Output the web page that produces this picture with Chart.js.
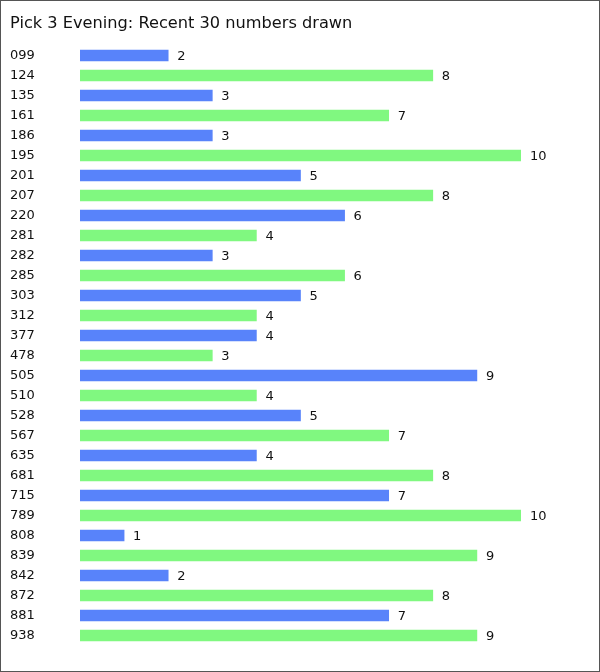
<!DOCTYPE html>
<html>
<head>
<meta charset="utf-8">
<script src="https://cdn.jsdelivr.net/npm/chart.js@4/dist/chart.umd.min.js"></script>
<style>
  body { margin: 0; background: #fff; }
  #wrap { width: 600px; height: 672px; }
</style>
</head>
<body>
<div id="wrap"><canvas id="myChart" width="600" height="672"></canvas></div>
<script>
const numbers = ["099", "124", "135", "161", "186", "195", "201", "207", "220", "281",
  "282", "285", "303", "312", "377", "478", "505", "510", "528", "567",
  "635", "681", "715", "789", "808", "839", "842", "872", "881", "938"];
const timesDrawn = [2, 8, 3, 7, 3, 10, 5, 8, 6, 4,
  3, 6, 5, 4, 4, 3, 9, 4, 5, 7,
  4, 8, 7, 10, 1, 9, 2, 8, 7, 9];
const BLUE = "rgb(88,131,250)";
const GREEN = "rgb(128,248,128)";
const FONT = "'DejaVu Sans', Verdana, sans-serif";

// border round the whole picture
const frame = {
  id: "frame",
  beforeDraw(chart) {
    const c = chart.ctx;
    c.save();
    c.fillStyle = "#fff";
    c.fillRect(0, 0, chart.width, chart.height);
    c.strokeStyle = "#555";
    c.lineWidth = 1;
    c.strokeRect(0.5, 0.5, chart.width - 1, chart.height - 1);
    c.restore();
  },
};

// value written after each bar
const valueLabels = {
  id: "valueLabels",
  afterDatasetsDraw(chart) {
    const c = chart.ctx;
    const meta = chart.getDatasetMeta(0);
    c.save();
    c.font = "13px " + FONT;
    c.fillStyle = "#111";
    c.textBaseline = "middle";
    c.textAlign = "left";
    meta.data.forEach((bar, i) => {
      c.fillText(String(timesDrawn[i]), bar.x + 9, bar.y + 1);
    });
    c.restore();
  },
};

new Chart(document.getElementById("myChart"), {
  type: "bar",
  data: {
    labels: numbers,
    datasets: [{
      data: timesDrawn,
      backgroundColor: numbers.map((_, i) => (i % 2 == 0 ? BLUE : GREEN)),
      barThickness: 11,
    }],
  },
  options: {
    indexAxis: "y",
    responsive: false,
    animation: false,
    layout: { padding: { left: 10, right: 79, top: 0, bottom: 26.5 } },
    plugins: {
      legend: { display: false },
      tooltip: { enabled: false },
      title: {
        display: true,
        text: "Pick 3 Evening: Recent 30 numbers drawn",
        align: "start",
        color: "#111",
        font: { family: FONT, size: 16.2, weight: "normal", lineHeight: 1.2 },
        padding: { top: 14, bottom: 12.1 },
      },
    },
    scales: {
      x: {
        display: false,
        min: 0,
        max: 10,
      },
      y: {
        grid: { display: false },
        border: { display: false },
        ticks: {
          crossAlign: "far",
          color: "#111",
          font: { family: FONT, size: 13 },
          padding: 0,
        },
        afterFit(scale) {
          scale.width = 70;
        },
      },
    },
  },
  plugins: [frame, valueLabels],
});
</script>
</body>
</html>
